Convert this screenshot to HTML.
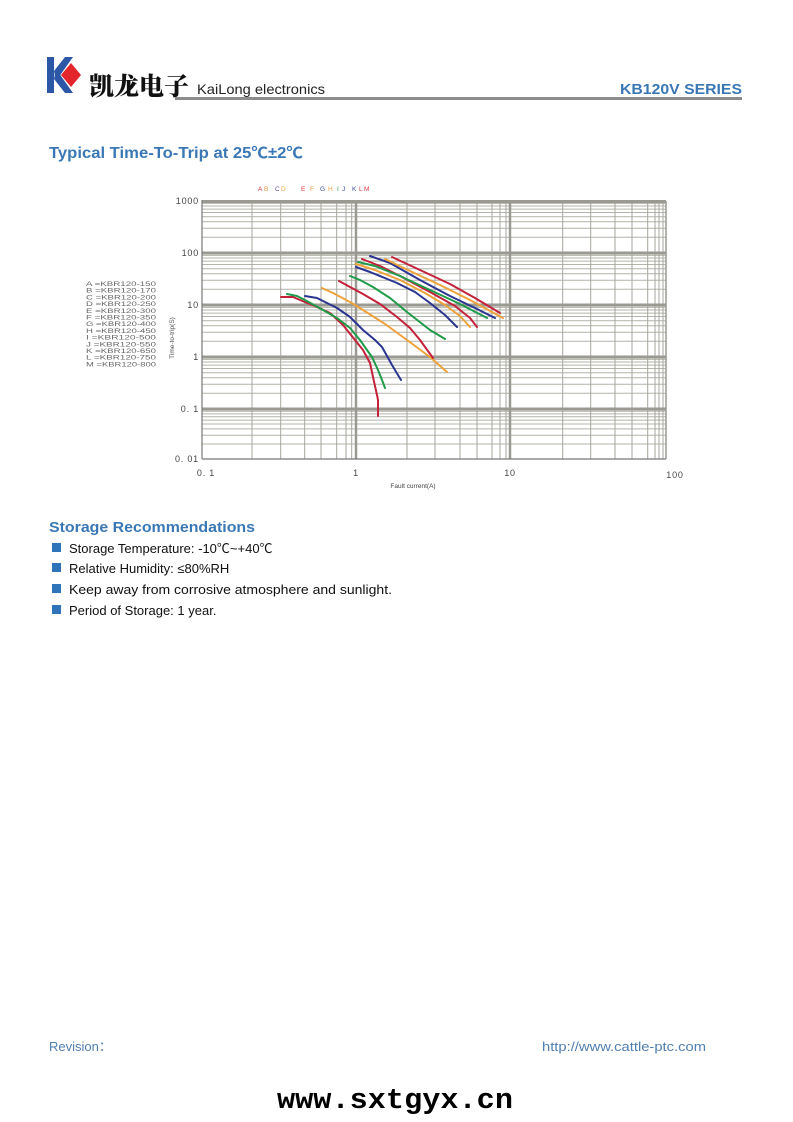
<!DOCTYPE html>
<html>
<head>
<meta charset="utf-8">
<style>
html,body{margin:0;padding:0;background:#fff;}
svg{display:block;}
</style>
</head>
<body>
<svg width="793" height="1122" viewBox="0 0 793 1122" xmlns="http://www.w3.org/2000/svg">
<rect x="0" y="0" width="793" height="1122" fill="#fff"/>

<!-- Logo -->
<rect x="47" y="57" width="7" height="36" fill="#2c57a6"/>
<polygon points="54,71 65,57 73,57 56,81" fill="#2c57a6"/>
<polygon points="54,79 56,69 73,93 65,93" fill="#2c57a6"/>
<polygon points="61,75 71,63 81,75 71,87" fill="#e2262c"/>
<text x="89" y="95" font-family="'Noto Serif CJK SC','Noto Sans CJK SC',serif" font-weight="900" font-size="25" fill="#111">凯龙电子</text>
<text x="197" y="94" font-family="'Liberation Sans',sans-serif" font-size="14" fill="#222" textLength="128" lengthAdjust="spacingAndGlyphs">KaiLong electronics</text>
<text x="742" y="94" text-anchor="end" font-family="'Liberation Sans',sans-serif" font-weight="bold" font-size="15" fill="#3a78b5" textLength="122" lengthAdjust="spacingAndGlyphs">KB120V SERIES</text>
<rect x="175" y="97" width="567" height="3" fill="#8c8c8c"/>

<!-- Title -->
<text x="49" y="158" font-family="'Liberation Sans','Noto Sans CJK SC',sans-serif" font-weight="bold" font-size="15.5" fill="#3a78b5" textLength="254" lengthAdjust="spacingAndGlyphs">Typical Time-To-Trip at 25℃±2℃</text>

<!-- Chart grid -->
<g stroke="#b4b4aa" stroke-width="1" fill="none">
  <path d="M202 237.3H666M202 228.2H666M202 221.7H666M202 216.7H666M202 212.5H666M202 209.1H666M202 206H666M202 203.4H666
           M202 289.3H666M202 280.2H666M202 273.7H666M202 268.7H666M202 264.5H666M202 261.1H666M202 258H666M202 255.4H666
           M202 341.3H666M202 332.2H666M202 325.7H666M202 320.7H666M202 316.5H666M202 313.1H666M202 310H666M202 307.4H666
           M202 393.3H666M202 384.2H666M202 377.7H666M202 372.7H666M202 368.5H666M202 365.1H666M202 362H666M202 359.4H666
           M202 444H666M202 435.2H666M202 428.9H666M202 424H666M202 420.1H666M202 416.8H666M202 413.9H666M202 411.3H666"/>
</g>
<g stroke="#a6a69e" stroke-width="1" fill="none">
  <path d="M252 201V459M280.7 201V459M304.7 201V459M321 201V459M336.7 201V459M346 201V459M351.7 201V459
           M407 201V459M435 201V459M460 201V459M477 201V459M492 201V459M500 201V459M506 201V459
           M562.7 201V459M590.7 201V459M615 201V459M632 201V459M647.7 201V459M655 201V459M659 201V459M663 201V459"/>
</g>
<g stroke="#9a9a92" fill="none">
  <path d="M356 201V459M510 201V459" stroke-width="2.5"/>
  <path d="M666 201V459" stroke-width="1.5"/>
  <path d="M202 201.5H666M202 253H666M202 305H666M202 357H666M202 409H666" stroke-width="3"/>
  <path d="M202 459H666" stroke-width="1.2" stroke="#777"/>
  <path d="M202 200V459" stroke-width="1.2" stroke="#777"/>
</g>

<!-- Curves -->
<g fill="none" stroke-width="2" stroke-linejoin="round" stroke-linecap="round">
  <polyline stroke="#c4213a" points="281,297 293,297 300,300 317,307 330,313 343,325 355,340 363,350 370,363 373,377 377,395 378,400 378,416"/>
  <polyline stroke="#1f9b4a" points="287,294 297,296 305,300 323,310 337,318 350,328 360,340 367,350 372,357 378,370 382,380 385,388"/>
  <polyline stroke="#2b3590" points="305,296 317,298 327,303 337,308 350,317 363,330 375,340 382,347 392,365 401,380"/>
  <polyline stroke="#eea23a" points="322,288 333,293 350,302 363,310 385,324 407,340 430,357 447,372"/>
  <polyline stroke="#c4213a" points="339,281 350,287 363,294 380,304 397,317 410,328 420,340 433,358"/>
  <polyline stroke="#1f9b4a" points="350,276 360,280 373,287 390,298 407,312 430,330 445,339"/>
  <polyline stroke="#2b3590" points="356,267 370,272 397,283 415,292 430,303 445,315 457,327"/>
  <polyline stroke="#eea23a" points="356,264 375,270 400,280 425,293 445,305 460,316 470,327"/>
  <polyline stroke="#c4213a" points="362,259 380,266 400,276 430,292 455,306 470,318 477,327"/>
  <polyline stroke="#1f9b4a" points="358,262 375,266 400,276 430,290 460,304 487,318"/>
  <polyline stroke="#2b3590" points="370,256 390,263 420,280 450,296 475,308 495,318"/>
  <polyline stroke="#eea23a" points="385,259 410,271 440,285 470,300 503,318"/>
  <polyline stroke="#c4213a" points="392,257 420,270 450,284 475,298 500,313"/>
</g>

<!-- Axis labels -->
<g font-family="'Liberation Sans',sans-serif" font-size="9" fill="#444" letter-spacing="0.8" text-anchor="end">
  <text x="199" y="204">1000</text>
  <text x="199" y="256">100</text>
  <text x="199" y="308">10</text>
  <text x="199" y="360">1</text>
  <text x="199" y="412">0. 1</text>
  <text x="199" y="462">0. 01</text>
</g>
<g font-family="'Liberation Sans',sans-serif" font-size="9" fill="#444" letter-spacing="0.8" text-anchor="middle">
  <text x="206" y="476">0. 1</text>
  <text x="356" y="476">1</text>
  <text x="510" y="476">10</text>
  <text x="675" y="478">100</text>
</g>
<text x="413" y="488" text-anchor="middle" font-family="'Liberation Sans',sans-serif" font-size="6.5" fill="#444">Fault current(A)</text>
<text transform="translate(174,338) rotate(-90)" text-anchor="middle" font-family="'Liberation Sans',sans-serif" font-size="6.5" fill="#555">Time-to-trip(S)</text>

<!-- Top letter legend -->
<g font-family="'Liberation Sans',sans-serif" font-size="6.5">
  <text x="258" y="191" fill="#d8393f">A</text>
  <text x="264" y="191" fill="#e4903a">B</text>
  <text x="275" y="191" fill="#6a4aa0">C</text>
  <text x="281" y="191" fill="#eea23a">D</text>
  <text x="301" y="191" fill="#d8393f">E</text>
  <text x="310" y="191" fill="#eea23a">F</text>
  <text x="320" y="191" fill="#3a4aa0">G</text>
  <text x="328" y="191" fill="#eea23a">H</text>
  <text x="337" y="191" fill="#2aa050">I</text>
  <text x="342" y="191" fill="#3a4aa0">J</text>
  <text x="352" y="191" fill="#3a4aa0">K</text>
  <text x="359" y="191" fill="#d8393f">L</text>
  <text x="364" y="191" fill="#d8393f">M</text>
</g>

<!-- Left legend -->
<g font-family="'Liberation Sans',sans-serif" font-size="6.5" fill="#666">
  <text x="86" y="286" textLength="70" lengthAdjust="spacingAndGlyphs">A =KBR120-150</text>
  <text x="86" y="292.7" textLength="70" lengthAdjust="spacingAndGlyphs">B =KBR120-170</text>
  <text x="86" y="299.4" textLength="70" lengthAdjust="spacingAndGlyphs">C =KBR120-200</text>
  <text x="86" y="306.1" textLength="70" lengthAdjust="spacingAndGlyphs">D =KBR120-250</text>
  <text x="86" y="312.8" textLength="70" lengthAdjust="spacingAndGlyphs">E =KBR120-300</text>
  <text x="86" y="319.5" textLength="70" lengthAdjust="spacingAndGlyphs">F =KBR120-350</text>
  <text x="86" y="326.2" textLength="70" lengthAdjust="spacingAndGlyphs">G =KBR120-400</text>
  <text x="86" y="332.9" textLength="70" lengthAdjust="spacingAndGlyphs">H =KBR120-450</text>
  <text x="86" y="339.6" textLength="70" lengthAdjust="spacingAndGlyphs">I =KBR120-500</text>
  <text x="86" y="346.3" textLength="70" lengthAdjust="spacingAndGlyphs">J =KBR120-550</text>
  <text x="86" y="353" textLength="70" lengthAdjust="spacingAndGlyphs">K =KBR120-650</text>
  <text x="86" y="359.7" textLength="70" lengthAdjust="spacingAndGlyphs">L =KBR120-750</text>
  <text x="86" y="366.4" textLength="70" lengthAdjust="spacingAndGlyphs">M =KBR120-800</text>
</g>

<!-- Storage -->
<text x="49" y="532" font-family="'Liberation Sans',sans-serif" font-weight="bold" font-size="15" fill="#3a78b5" textLength="206" lengthAdjust="spacingAndGlyphs">Storage Recommendations</text>
<g fill="#2f73b8">
  <rect x="52" y="543" width="9" height="9"/>
  <rect x="52" y="563" width="9" height="9"/>
  <rect x="52" y="584" width="9" height="9"/>
  <rect x="52" y="605" width="9" height="9"/>
</g>
<g font-family="'Liberation Sans','Noto Sans CJK SC',sans-serif" font-size="13" fill="#111">
  <text x="69" y="553">Storage Temperature: -10℃~+40℃</text>
  <text x="69" y="573">Relative Humidity: ≤80%RH</text>
  <text x="69" y="594" textLength="323" lengthAdjust="spacingAndGlyphs">Keep away from corrosive atmosphere and sunlight.</text>
  <text x="69" y="615">Period of Storage: 1 year.</text>
</g>

<!-- Footer -->
<text x="49" y="1051" font-family="'Liberation Sans','Noto Sans CJK SC',sans-serif" font-size="13" fill="#4f7fb0">Revision：</text>
<text x="542" y="1051" font-family="'Liberation Sans',sans-serif" font-size="13" fill="#4f7fb0" textLength="164" lengthAdjust="spacingAndGlyphs">http://www.cattle-ptc.com</text>
<text x="277" y="1108" font-family="'Liberation Mono',monospace" font-weight="bold" font-size="29" fill="#000" textLength="236" lengthAdjust="spacingAndGlyphs">www.sxtgyx.cn</text>
</svg>
</body>
</html>
